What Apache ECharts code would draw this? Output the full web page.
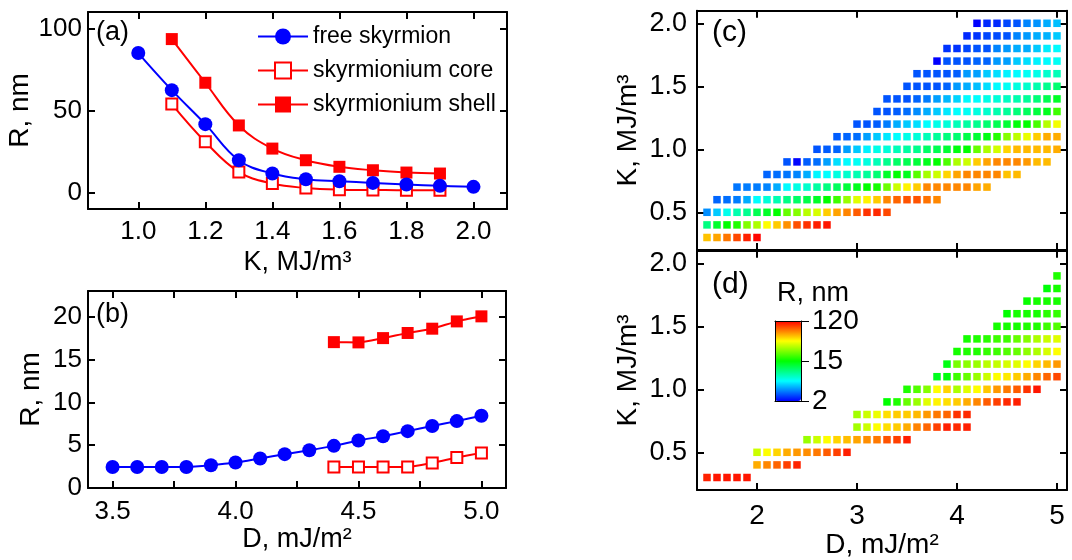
<!DOCTYPE html>
<html><head><meta charset="utf-8">
<script src="https://cdn.jsdelivr.net/npm/echarts@6/dist/echarts.min.js"></script>
<style>html,body{margin:0;padding:0;background:#fff}#c{width:1072px;height:560px}</style>
</head><body><div id="c"></div>
<script>
// ---------- panel (a): R vs K ----------
const kA      = [1.0, 1.1, 1.2, 1.3, 1.4, 1.5, 1.6, 1.7, 1.8, 1.9, 2.0];
const freeA   = [85, 62.4, 41.7, 19.7, 11.6, 8.1, 6.9, 5.9, 4.9, 4.1, 3.5];
const kCoreA  = [1.1, 1.2, 1.3, 1.4, 1.5, 1.6, 1.7, 1.8, 1.9];
const coreA   = [53.9, 30.9, 12.6, 5.5, 2.8, 1.8, 1.6, 1.4, 1.4];
const shellA  = [93.5, 66.9, 40.9, 26.8, 19.7, 15.7, 13.6, 12.2, 11.6];
// ---------- panel (b): R vs D ----------
const dB      = [3.5, 3.6, 3.7, 3.8, 3.9, 4.0, 4.1, 4.2, 4.3, 4.4, 4.5, 4.6, 4.7, 4.8, 4.9, 5.0];
const freeB   = [2.46, 2.46, 2.46, 2.46, 2.66, 2.97, 3.44, 3.95, 4.41, 4.92, 5.55, 6.05, 6.64, 7.23, 7.81, 8.44];
const dCoreB  = [4.4, 4.5, 4.6, 4.7, 4.8, 4.9, 5.0];
const coreB   = [2.46, 2.46, 2.46, 2.46, 2.93, 3.55, 4.1];
const shellB  = [17.03, 17.0, 17.5, 18.1, 18.6, 19.45, 20.04];
// ---------- panel (c): free skyrmion R (nm) on D-K grid ----------
const kC      = [0.3, 0.4, 0.5, 0.6, 0.7, 0.8, 0.9, 1.0, 1.1, 1.2, 1.3, 1.4, 1.5, 1.6, 1.7, 1.8, 1.9, 2.0];
const dStartC = [1.5, 1.5, 1.5, 1.6, 1.8, 2.1, 2.3, 2.6, 2.8, 3.0, 3.2, 3.3, 3.5, 3.6, 3.8, 3.9, 4.1, 4.2];
const rC = [
  [55, 62, 75, 90, 105, 118],
  [9.3, 13, 15.5, 17.5, 26, 31, 43, 53, 67, 87, 98, 106, 110],
  [3.55, 4.5, 6.0, 7.7, 8.7, 11.2, 13.2, 15.5, 23.3, 26.4, 32.4, 36.6, 52.8, 62.4, 70.4, 83, 97.7, 102, 90],
  [3.0, 3.1, 3.3, 4.0, 5.6, 6.5, 7.6, 9.1, 10.3, 11.6, 13.2, 15.5, 19.8, 28.6, 38, 45, 53, 70, 80, 86, 86, 76, 70],
  [3.2, 3.3, 3.3, 3.4, 4.0, 5.5, 6.2, 6.8, 8.1, 9.3, 10.7, 12.3, 13.8, 15.5, 16.8, 24, 35, 45, 53, 70, 70, 70, 70, 70, 62, 60],
  [3.0, 3.1, 3.2, 3.4, 4.0, 5.4, 5.6, 6.3, 6.8, 7.6, 8.4, 9.8, 13.1, 15.5, 13.8, 21.9, 30, 35, 51, 62, 70, 70, 70, 70, 55, 57],
  [2.8, 2.05, 2.9, 3.1, 3.8, 4.9, 5.5, 5.8, 6.3, 7.4, 8.8, 10.3, 11.2, 12.3, 13.8, 15.5, 21, 31, 35, 53, 62, 70, 70, 70, 65, 57, 57],
  [2.8, 2.9, 3.0, 3.8, 4.5, 5.3, 6.1, 6.5, 7.4, 8.1, 8.8, 10.3, 11.2, 12.6, 14.6, 15.5, 23.3, 31, 36, 51, 57, 57, 57, 57, 60],
  [2.9, 3.0, 3.1, 3.8, 4.5, 5.1, 5.6, 6.1, 6.5, 7.4, 8.4, 9.4, 9.9, 11.6, 12.6, 14.4, 17.8, 26.4, 33, 39.6, 52.8, 60, 60],
  [2.8, 2.8, 2.9, 3.3, 4.0, 4.5, 4.9, 5.6, 6.1, 6.5, 7.4, 8.1, 8.8, 9.9, 11.2, 12.6, 14.9, 15.5, 20.5, 32, 41],
  [2.8, 2.8, 2.9, 3.1, 3.5, 4.0, 4.5, 5.1, 5.6, 5.8, 6.3, 6.8, 7.7, 8.4, 9.6, 10.7, 12.1, 13.8, 19.8],
  [2.8, 2.8, 2.8, 3.0, 3.3, 3.8, 4.2, 4.7, 5.5, 5.6, 6.1, 6.5, 7.1, 7.7, 8.4, 9.6, 11.2, 13.2],
  [2.8, 2.8, 2.8, 2.8, 3.0, 3.7, 4.0, 4.3, 4.9, 5.5, 5.8, 6.3, 6.8, 7.7, 8.8, 9.9],
  [2.8, 2.8, 2.8, 2.8, 2.9, 3.7, 3.8, 4.5, 4.9, 5.3, 5.5, 5.8, 6.1, 6.8, 7.4],
  [2.0, 2.8, 2.8, 2.8, 3.0, 3.0, 3.7, 3.8, 4.5, 4.9, 5.3, 5.5, 5.8],
  [2.45, 2.45, 2.65, 2.8, 2.8, 3.4, 3.7, 4.0, 4.0, 4.5, 5.2, 5.5],
  [2.35, 2.45, 2.65, 2.7, 2.8, 3.4, 3.7, 4.0, 4.1, 4.5],
  [2.0, 2.35, 2.35, 2.65, 2.8, 3.4, 3.6, 4.0, 4.3]
];
// ---------- panel (d): skyrmionium R (nm) on D-K grid ----------
const kD      = [0.3, 0.4, 0.5, 0.6, 0.7, 0.8, 0.9, 1.0, 1.1, 1.2, 1.3, 1.4, 1.5, 1.6, 1.7, 1.8, 1.9];
const dStartD = [1.5, 2.0, 2.0, 2.5, 3.0, 3.0, 3.3, 3.5, 3.8, 3.9, 4.0, 4.1, 4.4, 4.5, 4.7, 4.9, 5.0];
const rD = [
  [105, 110, 110, 110, 110],
  [60, 70, 80, 93, 104],
  [35, 43, 51, 60, 65, 68, 74, 83, 93, 106],
  [28.6, 35, 43, 51, 56, 62, 68, 74, 86, 93, 106],
  [29.8, 35, 43, 49, 53, 60, 71, 80, 93, 106, 102, 106],
  [29.8, 35, 40, 49, 53, 53, 57, 65, 74, 80, 98, 102],
  [15.5, 17.5, 23.3, 28.6, 38, 45, 49, 53, 60, 70, 83, 93, 102, 106],
  [17.5, 21.5, 26.3, 43, 51, 31, 38, 43, 54, 65, 74, 83, 98, 110],
  [13.7, 14.9, 19.8, 23.3, 28.6, 35, 43, 47, 53, 60, 70, 80, 90],
  [14.4, 25, 27, 28.6, 32.5, 33.8, 36.5, 38, 43, 51, 57, 65],
  [16.8, 17.5, 17.5, 19, 19.8, 21.5, 23.3, 27.4, 31, 36.5, 43],
  [16.8, 17.5, 18.2, 19.8, 19.8, 23.3, 26.3, 31, 35, 38],
  [16.8, 16.8, 16.8, 17.5, 17.5, 19.8, 21.5],
  [15.5, 16.8, 16.8, 16.8, 18.2, 19],
  [16, 16.8, 16.8, 16.8],
  [15, 16.8],
  [17.5]
];
const cGridStep = 0.1;
// ---------- tick labels ----------
const ticksAx = [1.0, 1.2, 1.4, 1.6, 1.8, 2.0];
const ticksAy = [0, 50, 100];
const ticksBx = [3.5, 3.75, 4.0, 4.25, 4.5, 4.75, 5.0];
const labelsBx = [3.5, 4.0, 4.5, 5.0];
const ticksBy = [0, 5, 10, 15, 20];
const ticksDx = [2, 3, 4, 5];
const ticksKy = [0.5, 1.0, 1.5, 2.0];
const cbarTicks = [2, 15, 120];
const cbarRange = [2, 120];

const FONT = '"Liberation Sans", Arial, Helvetica, sans-serif';
const BLUE = '#0000ff', RED = '#ff0000';

function cells(Ks, starts, rows) {
  const out = [];
  rows.forEach((row, i) => row.forEach((r, j) => {
    const D = Math.round((starts[i] + cGridStep * j) * 10) / 10;
    out.push([D, Ks[i], r, Math.log10(r)]);
  }));
  return out;
}
const zip = (xs, ys) => xs.map((x, i) => [x, ys[i]]);

function ax(gridIndex, pos, min, max, ticks, labels, fmt, fs, margin, name, nameGap, nameFs) {
  const a = {
    type: 'value', gridIndex, position: pos, min, max,
    axisLine: {show: true, onZero: false, lineStyle: {color: '#000', width: 2}},
    axisTick: {show: true, inside: true, length: 7, lineStyle: {color: '#000', width: 2}, customValues: ticks},
    axisLabel: labels ? {show: true, customValues: labels, formatter: fmt, fontSize: fs, color: '#000', fontFamily: FONT, margin} : {show: false},
    splitLine: {show: false}, minorTick: {show: false}
  };
  if (name) {
    a.name = name; a.nameLocation = 'middle'; a.nameGap = nameGap;
    a.nameTextStyle = {fontSize: nameFs, color: '#000', fontFamily: FONT};
  }
  return a;
}
const f1 = v => v.toFixed(1);
const f0 = v => String(v);

const grids = [
  {left: 88, top: 12, width: 419, height: 197},
  {left: 88, top: 291, width: 418, height: 197},
  {left: 697, top: 10.7, width: 370, height: 239.4},
  {left: 697, top: 250.7, width: 370, height: 239.4},
  {left: 775, top: 321, width: 26, height: 80}
].map(g => Object.assign({outerBoundsMode: 'none', containLabel: false}, g));

const cbLine = {show: true, onZero: false, lineStyle: {color: '#000', width: 1}};
const xAxis = [
  ax(0, 'bottom', 0.85, 2.1, ticksAx, ticksAx, f1, 26, 10, 'K, MJ/m³', 40, 27),
  ax(0, 'top', 0.85, 2.1, ticksAx, null),
  ax(1, 'bottom', 3.4, 5.1, ticksBx, labelsBx, f1, 26, 11, 'D, mJ/m²', 38, 27),
  ax(1, 'top', 3.4, 5.1, ticksBx, null),
  ax(2, 'bottom', 1.4, 5.1, ticksDx, null),
  ax(2, 'top', 1.4, 5.1, ticksDx, null),
  ax(3, 'bottom', 1.4, 5.1, ticksDx, ticksDx, f0, 28, 12, 'D, mJ/m²', 38, 28),
  ax(3, 'top', 1.4, 5.1, ticksDx, null),
  {type: 'value', gridIndex: 4, position: 'bottom', min: 0, max: 1, z: 10, axisLine: cbLine, axisTick: {show: false}, axisLabel: {show: false}, splitLine: {show: false}},
  {type: 'value', gridIndex: 4, position: 'top', min: 0, max: 1, z: 10, axisLine: cbLine, axisTick: {show: false}, axisLabel: {show: false}, splitLine: {show: false}}
];
const lg = cbarTicks.map(v => Math.log10(v));
const yAxis = [
  ax(0, 'left', -10, 110, ticksAy, ticksAy, f0, 26, 6, 'R, nm', 54, 28),
  ax(0, 'right', -10, 110, ticksAy, null),
  ax(1, 'left', 0, 23, ticksBy, ticksBy, f0, 26, 6, 'R, nm', 43, 28),
  ax(1, 'right', 0, 23, ticksBy, null),
  ax(2, 'left', 0.2, 2.1, ticksKy, ticksKy, f1, 27, 10, 'K, MJ/m³', 55, 28),
  ax(2, 'right', 0.2, 2.1, ticksKy, null),
  ax(3, 'left', 0.2, 2.1, ticksKy, ticksKy, f1, 27, 10, 'K, MJ/m³', 55, 28),
  ax(3, 'right', 0.2, 2.1, ticksKy, null),
  {type: 'value', gridIndex: 4, position: 'left', min: lg[0], max: lg[2], z: 10, axisLine: cbLine, axisTick: {show: false}, axisLabel: {show: false}, splitLine: {show: false}},
  {type: 'value', gridIndex: 4, position: 'right', min: Math.log10(cbarRange[0]), max: Math.log10(cbarRange[1]), z: 10,
   axisLine: cbLine,
   axisTick: {show: true, inside: false, length: 8, lineStyle: {color: '#000', width: 1}, customValues: lg},
   axisLabel: {show: true, customValues: lg, formatter: v => String(Math.round(Math.pow(10, v))), fontSize: 28, color: '#000', fontFamily: FONT, margin: 11},
   splitLine: {show: false}}
];

function lineSeries(name, xi, data, sym, size, color, smooth) {
  const empty = sym === 'emptyRect';
  return {
    type: 'line', name, xAxisIndex: xi, yAxisIndex: xi, data,
    symbol: sym, symbolSize: size, showSymbol: true, smooth,
    lineStyle: {color, width: 2}, itemStyle: {color, borderColor: color, borderWidth: empty ? 1.5 : 0},
    z: color === BLUE ? 3 : 2
  };
}
const jet = ['#0000ff', '#0080ff', '#00ffff', '#00ff80', '#00ff00', '#80ff00', '#ffff00', '#ff8000', '#ff0000'];

const series = [
  lineSeries('free skyrmion', 0, zip(kA, freeA), 'circle', 14, BLUE, 0.4),
  lineSeries('skyrmionium core', 0, zip(kCoreA, coreA), 'emptyRect', 11, RED, 0.4),
  lineSeries('skyrmionium shell', 0, zip(kCoreA, shellA), 'rect', 12, RED, 0.4),
  lineSeries('free skyrmion', 2, zip(dB, freeB), 'circle', 14, BLUE, 0.2),
  lineSeries('skyrmionium core', 2, zip(dCoreB, coreB), 'emptyRect', 11, RED, 0.2),
  lineSeries('skyrmionium shell', 2, zip(dCoreB, shellB), 'rect', 12, RED, 0.2),
  {type: 'scatter', name: 'c', xAxisIndex: 4, yAxisIndex: 4, data: cells(kC, dStartC, rC), symbol: 'rect', symbolSize: 7.5, itemStyle: {opacity: 1}},
  {type: 'scatter', name: 'd', xAxisIndex: 6, yAxisIndex: 6, data: cells(kD, dStartD, rD), symbol: 'rect', symbolSize: 7.5, itemStyle: {opacity: 1}}
];

const txt = (t, left, top, fs) => ({type: 'text', left, top, z: 20, style: {text: t, fontSize: fs, fontFamily: FONT, fill: '#000'}});

const option = {
  backgroundColor: '#fff',
  animation: false,
  grid: grids, xAxis, yAxis, series,
  legend: {
    data: ['free skyrmion', 'skyrmionium core', 'skyrmionium shell'],
    orient: 'vertical', left: 257, top: 25, padding: 0,
    itemWidth: 50, itemHeight: 20, itemGap: 11, selectedMode: false,
    textStyle: {fontSize: 23, fontFamily: FONT, color: '#000'}
  },
  visualMap: {
    type: 'continuous', seriesIndex: [6, 7], dimension: 3,
    min: Math.log10(cbarRange[0]), max: Math.log10(cbarRange[1]),
    inRange: {color: jet}, calculable: false, hoverLink: false,
    left: 775, top: 321, itemWidth: 26, itemHeight: 80, padding: 0, orient: 'vertical'
  },
  graphic: [
    txt('(a)', 96, 19, 27),
    txt('(b)', 96, 301, 27),
    txt('(c)', 712, 18, 30),
    txt('(d)', 712, 270, 30),
    txt('R, nm', 777, 280, 27)
  ]
};
const chart = echarts.init(document.getElementById('c'), null, {renderer: 'canvas'});
chart.setOption(option);
</script></body></html>
